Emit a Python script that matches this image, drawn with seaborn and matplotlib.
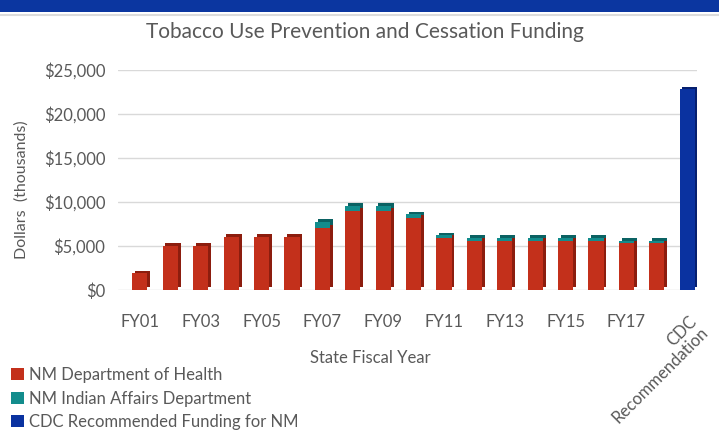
import matplotlib
matplotlib.use("Agg")
import matplotlib.pyplot as plt
import matplotlib.patheffects as pe
import matplotlib.transforms as mtransforms
from matplotlib.patches import Patch, Rectangle
from matplotlib.lines import Line2D
import numpy as np
import pandas as pd
import seaborn as sns

# ---- data (thousands of dollars) ----
years = ["FY01", "FY02", "FY03", "FY04", "FY05", "FY06", "FY07", "FY08", "FY09",
         "FY10", "FY11", "FY12", "FY13", "FY14", "FY15", "FY16", "FY17", "FY18"]
cdc_category = "CDC\nRecommendation"
doh = [1900, 5000, 5000, 6000, 6000, 6000, 7100, 9000, 9000,
       8200, 5900, 5600, 5600, 5600, 5600, 5600, 5300, 5300]
iad = [0, 0, 0, 0, 0, 0, 600, 550, 550,
       400, 300, 300, 300, 300, 300, 300, 300, 300]
cdc_value = [22800]
shown_labels = ["FY01", "FY03", "FY05", "FY07", "FY09", "FY11", "FY13", "FY15", "FY17"]
yticks = [0, 5000, 10000, 15000, 20000, 25000]

series_names = ["NM Department of Health", "NM Indian Affairs Department",
                "CDC Recommended Funding for NM"]

RED, RED_D = "#c3301b", "#8c1d0e"
TEAL, TEAL_D = "#128c8c", "#0b6263"
BLUE, BLUE_D = "#0a32a0", "#061f6e"
TXT = "#595959"

order = years + [cdc_category]
df = pd.DataFrame({"year": years, "doh": doh, "iad": iad})
df_iad = df[df["iad"] > 0]

sns.set_theme(style="white")
plt.rcParams["font.family"] = ["Lato", "DejaVu Sans"]

fig = plt.figure(figsize=(7.19, 4.36), dpi=100)
W, H = 719, 436
ax = fig.add_axes([118 / W, 1 - 290 / H, (697 - 118) / W, (290 - 70) / H])

def shadow(col, off=(2.0, 2.0)):
    return [pe.SimplePatchShadow(offset=off, shadow_rgbFace=col, alpha=1.0), pe.Normal()]

sns.barplot(data=df, x="year", y="doh", order=order, color=RED, saturation=1,
            width=0.5, linewidth=0, ax=ax)
n_red = len(ax.patches)
for p in ax.patches:
    p.set_path_effects(shadow(RED_D))

sns.barplot(data=df_iad, x="year", y="iad", order=order, color=TEAL, saturation=1,
            width=0.5, linewidth=0, bottom=df_iad["doh"].values, ax=ax)
for p in ax.patches[n_red:]:
    p.set_path_effects(shadow(TEAL_D))
n2 = len(ax.patches)

sns.barplot(x=[cdc_category], y=cdc_value, order=order, color=BLUE, saturation=1,
            width=0.5, linewidth=0, ax=ax)
for p in ax.patches[n2:]:
    p.set_path_effects(shadow(BLUE_D))

ax.set_xlim(-0.72, 18.32)
ax.set_ylim(0, 25000)
ax.set_yticks(yticks)
ax.set_yticklabels([f"${v:,.0f}" for v in yticks], color=TXT, fontsize=12)
ax.yaxis.grid(True, color="#d9d9d9", linewidth=1)
ax.set_axisbelow(True)
for s in ax.spines.values():
    s.set_visible(False)
ax.tick_params(axis="both", length=0)
ax.tick_params(axis="y", pad=9)
ax.tick_params(axis="x", pad=17)

ax.set_xticks(range(len(order)))
ax.set_xticklabels([lab if lab in shown_labels else "" for lab in order],
                   color=TXT, fontsize=12)

# rotated label for the CDC category, placed at its category position
trans = mtransforms.blended_transform_factory(ax.transData, ax.transAxes)
ax.text(order.index(cdc_category) + 0.05, -23 / 220, cdc_category, transform=trans,
        rotation=45, rotation_mode="anchor", ha="right", va="top",
        multialignment="right", color=TXT, fontsize=12, linespacing=1.0)

ax.set_xlabel("State Fiscal Year", color=TXT, fontsize=12)
ax.xaxis.set_label_coords((370 - 118) / 579, (290 - 358) / 220)
ax.xaxis.label.set_va("center")
ax.set_ylabel("Dollars  (thousands)", color=TXT, fontsize=11.5)
ax.yaxis.set_label_coords((22 - 118) / 579, (290 - 190) / 220)
ax.yaxis.label.set_va("center")

ax.set_title("Tobacco Use Prevention and Cessation Funding", color=TXT, fontsize=15,
             x=(365 - 118) / 579, y=(290 - 40) / 220, va="center")

handles = [Patch(facecolor=RED, edgecolor="none"),
           Patch(facecolor=TEAL, edgecolor="none"),
           Patch(facecolor=BLUE, edgecolor="none")]
leg = fig.legend(handles, series_names, loc="upper left",
                 bbox_to_anchor=(11 / W, 1 - 367 / H), frameon=False,
                 borderpad=0, borderaxespad=0, handlelength=0.75, handleheight=0.75,
                 handletextpad=0.35, labelspacing=0.45, fontsize=12)
for t in leg.get_texts():
    t.set_color(TXT)

fig.add_artist(Rectangle((0, 1 - 12 / H), 1, 12 / H, transform=fig.transFigure,
                         facecolor="#0b36a0", edgecolor="none"))
fig.add_artist(Line2D([0, 1], [1 - 15.5 / H, 1 - 15.5 / H], transform=fig.transFigure,
                      color="#dcdcdc", linewidth=1.5))

fig.savefig("out.png", dpi=100)
